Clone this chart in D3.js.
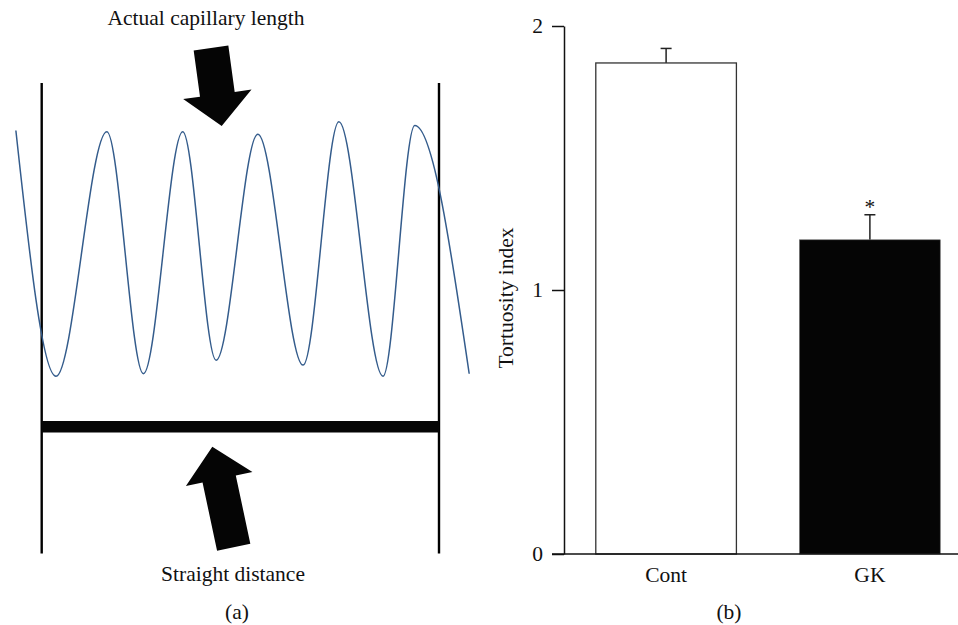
<!DOCTYPE html>
<html>
<head>
<meta charset="utf-8">
<script src="https://cdn.jsdelivr.net/npm/d3@7"></script>
<style>
  body { margin: 0; background: #fff; }
  text { font-family: 'Liberation Serif', 'DejaVu Serif', serif; fill: #111; }
</style>
</head>
<body>
<div id="chart"></div>
<script>
// panel (a): capillary trace, read at its peaks and troughs
var waveX = [-6.5, 3.6, 16.4, 25.6, 35.5, 43.9, 54.4, 65.8, 74.8, 85.9, 93.9, 107.6];
var waveY = [0.98, -1.01, 0.97, -0.99, 0.97, -0.88, 0.95, -0.92, 1.05, -1.01, 1.02, -0.99];

// panel (b): tortuosity index, mean and error
var groups = ['Cont', 'GK'];
var means = [1.86, 1.19];
var errors = [0.055, 0.095];
var yTicks = [0, 1, 2];

var width = 958;
var height = 625;
var fontSize = 21.5;

var svg = d3.select('#chart')
  .append('svg')
  .attr('width', width)
  .attr('height', height);

// ---------- (a) ----------
var xw = d3.scaleLinear().domain([0, 100]).range([41.7, 439]);
var yw = d3.scaleLinear().domain([-1, 1]).range([375, 128]);

var panelA = svg.append('g');

// the two end markers
panelA.selectAll('.edge')
  .data([0, 100])
  .enter()
  .append('line')
  .attr('class', 'edge')
  .attr('x1', function(d) { return xw(d); })
  .attr('x2', function(d) { return xw(d); })
  .attr('y1', 83)
  .attr('y2', 553.5)
  .attr('stroke', '#000')
  .attr('stroke-width', 2.4);

// straight distance bar
panelA.append('rect')
  .attr('x', xw(0))
  .attr('y', 421)
  .attr('width', xw(100) - xw(0))
  .attr('height', 11.5)
  .attr('fill', '#050505');

var wave = d3.line()
  .x(function(d) { return xw(d[0]); })
  .y(function(d) { return yw(d[1]); })
  .curve(d3.curveMonotoneX);

panelA.append('path')
  .datum(d3.zip(waveX, waveY))
  .attr('d', wave)
  .attr('fill', 'none')
  .attr('stroke', '#345c8c')
  .attr('stroke-width', 1.5);

// block arrows
function arrowPoints(a) {
  var dx = a.tip[0] - a.tail[0];
  var dy = a.tip[1] - a.tail[1];
  var len = Math.sqrt(dx * dx + dy * dy);
  var ux = dx / len, uy = dy / len;
  var nx = -uy, ny = ux;
  var bx = a.tip[0] - ux * a.headLen;
  var by = a.tip[1] - uy * a.headLen;
  var s = a.shaft / 2, h = a.head / 2;
  return [
    [a.tail[0] + nx * s, a.tail[1] + ny * s],
    [bx + nx * s, by + ny * s],
    [bx + nx * h, by + ny * h],
    a.tip,
    [bx - nx * h, by - ny * h],
    [bx - nx * s, by - ny * s],
    [a.tail[0] - nx * s, a.tail[1] - ny * s]
  ];
}

var arrows = [
  { tail: [211, 48], tip: [221.7, 126], shaft: 35, head: 69, headLen: 32 },
  { tail: [233.7, 547.2], tip: [212.3, 446.7], shaft: 34, head: 68, headLen: 33 }
];

panelA.selectAll('.arrow')
  .data(arrows)
  .enter()
  .append('polygon')
  .attr('class', 'arrow')
  .attr('points', function(d) {
    return arrowPoints(d).map(function(p) { return p.join(','); }).join(' ');
  })
  .attr('fill', '#050505');

panelA.append('text')
  .attr('x', 206)
  .attr('y', 25)
  .attr('text-anchor', 'middle')
  .attr('font-size', fontSize)
  .text('Actual capillary length');

panelA.append('text')
  .attr('x', 233)
  .attr('y', 581)
  .attr('text-anchor', 'middle')
  .attr('font-size', fontSize)
  .text('Straight distance');

panelA.append('text')
  .attr('x', 237)
  .attr('y', 619)
  .attr('text-anchor', 'middle')
  .attr('font-size', fontSize)
  .text('(a)');

// ---------- (b) ----------
var x = d3.scaleBand()
  .domain(groups)
  .range([564, 972])
  .paddingInner(0.31)
  .paddingOuter(0.156);

var y = d3.scaleLinear()
  .domain([0, 2])
  .range([554, 26]);

var panelB = svg.append('g');

var rows = groups.map(function(g, i) {
  return { group: g, mean: means[i], err: errors[i] };
});

var bars = panelB.selectAll('.bar')
  .data(rows)
  .enter()
  .append('g')
  .attr('class', 'bar');

bars.append('line')
  .attr('x1', function(d) { return x(d.group) + x.bandwidth() / 2; })
  .attr('x2', function(d) { return x(d.group) + x.bandwidth() / 2; })
  .attr('y1', function(d) { return y(d.mean); })
  .attr('y2', function(d) { return y(d.mean + d.err); })
  .attr('stroke', '#222')
  .attr('stroke-width', 1.5);

bars.append('line')
  .attr('x1', function(d) { return x(d.group) + x.bandwidth() / 2 - 5.5; })
  .attr('x2', function(d) { return x(d.group) + x.bandwidth() / 2 + 5.5; })
  .attr('y1', function(d) { return y(d.mean + d.err); })
  .attr('y2', function(d) { return y(d.mean + d.err); })
  .attr('stroke', '#222')
  .attr('stroke-width', 1.5);

bars.append('rect')
  .attr('x', function(d) { return x(d.group); })
  .attr('y', function(d) { return y(d.mean); })
  .attr('width', x.bandwidth())
  .attr('height', function(d) { return y(0) - y(d.mean); })
  .attr('fill', function(d, i) { return i === 0 ? '#fff' : '#050505'; })
  .attr('stroke', function(d, i) { return i === 0 ? '#333' : '#555'; })
  .attr('stroke-width', function(d, i) { return i === 0 ? 1.3 : 0.6; });

// significance mark on GK
panelB.append('text')
  .attr('x', x('GK') + x.bandwidth() / 2)
  .attr('y', y(means[1] + errors[1]) - 1)
  .attr('text-anchor', 'middle')
  .attr('font-size', fontSize)
  .text('*');

var yAxis = d3.axisLeft(y)
  .tickValues(yTicks)
  .tickFormat(d3.format('d'))
  .tickSize(12)
  .tickSizeOuter(0)
  .tickPadding(9);

var gy = panelB.append('g')
  .attr('transform', 'translate(564,0)')
  .call(yAxis);

gy.selectAll('path, line')
  .attr('stroke', '#111')
  .attr('stroke-width', 1.5);
gy.selectAll('text')
  .attr('font-size', fontSize)
  .attr('font-family', null);

// baseline runs from the zero tick to the right edge
panelB.append('line')
  .attr('x1', 552)
  .attr('x2', width)
  .attr('y1', y(0))
  .attr('y2', y(0))
  .attr('stroke', '#111')
  .attr('stroke-width', 1.5);

panelB.selectAll('.group-label')
  .data(groups)
  .enter()
  .append('text')
  .attr('class', 'group-label')
  .attr('x', function(d) { return x(d) + x.bandwidth() / 2; })
  .attr('y', 582)
  .attr('text-anchor', 'middle')
  .attr('font-size', fontSize)
  .text(function(d) { return d; });

panelB.append('text')
  .attr('transform', 'translate(513,298) rotate(-90)')
  .attr('text-anchor', 'middle')
  .attr('font-size', fontSize)
  .text('Tortuosity index');

panelB.append('text')
  .attr('x', 729)
  .attr('y', 619)
  .attr('text-anchor', 'middle')
  .attr('font-size', fontSize)
  .text('(b)');
</script>
</body>
</html>
